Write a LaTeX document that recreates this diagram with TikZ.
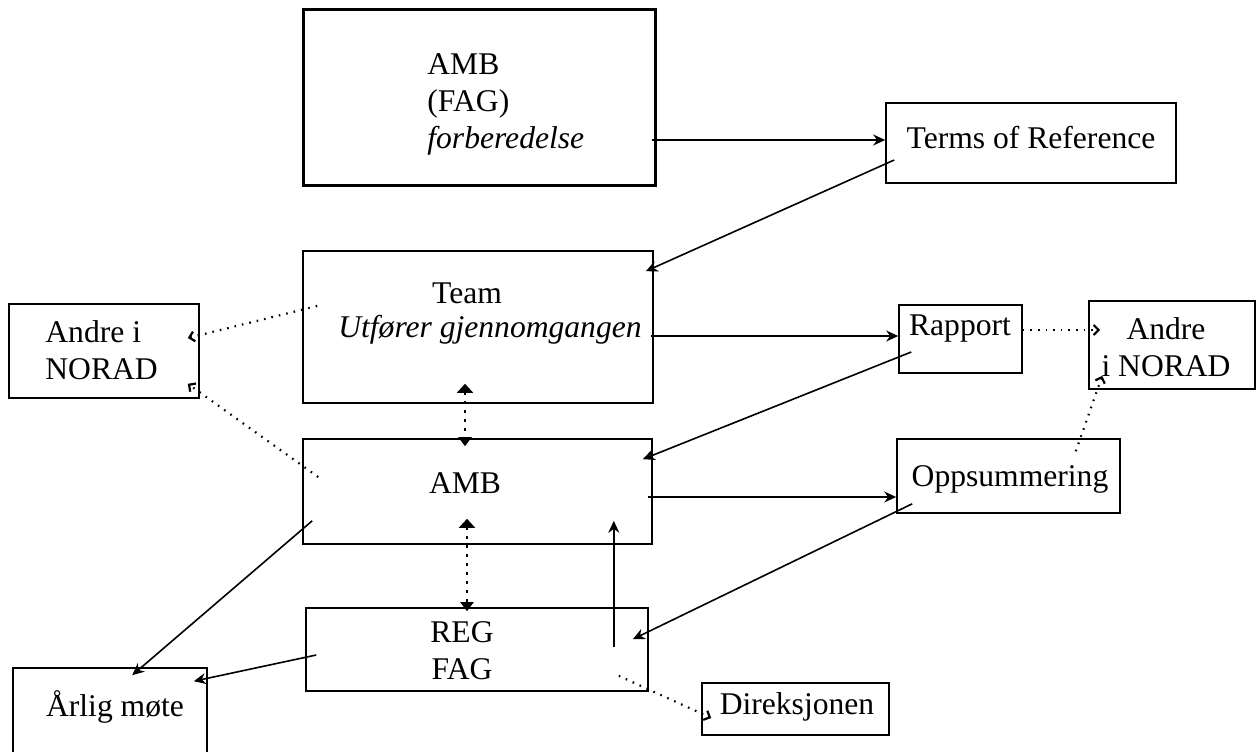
\documentclass[tikz,border=0pt]{standalone}
\usepackage{fontspec}
\setmainfont{Liberation Serif}
\usetikzlibrary{arrows.meta}

\begin{document}
\begin{tikzpicture}[x=0.5pt,y=-0.5pt,
  box/.style 2 args={draw,line width=0.8pt,minimum width=#1,minimum height=#2,inner sep=0pt},
  txt/.style={inner sep=0pt,font=\fontsize{15.8}{18.5}\selectfont},
  arr/.style={line width=0.8pt,-{Stealth[length=6pt,width=5.5pt]}},
  dotarr/.style={line width=1.1pt,dash pattern=on 0.8pt off 3pt,-{Straight Barb[length=2.5pt,width=5pt]}},
  dblarr/.style={line width=1pt,dash pattern=on 1.5pt off 3pt,{Triangle[length=4.5pt,width=8pt]}-{Triangle[length=4.5pt,width=6.5pt]}}]
  \useasboundingbox (0,0) rectangle (1256,751);
  % boxes
  \node[box={176pt}{88pt},line width=1.5pt] (prep) at (479,97) {};
  \node[box={145pt}{40pt}] (tor) at (1031,143) {};
  \node[box={175pt}{76pt}] (team) at (478,327) {};
  \node[box={95pt}{47pt}] (andreL) at (104,351) {};
  \node[box={61.5pt}{34pt}] (rapport) at (960.5,339) {};
  \node[box={83pt}{44pt}] (andreR) at (1172,345) {};
  \node[box={174.5pt}{52.5pt}] (amb) at (477.5,491.5) {};
  \node[box={111.5pt}{37pt}] (opps) at (1008.5,476) {};
  \node[box={171pt}{41.5pt}] (reg) at (477,649.5) {};
  \node[box={97pt}{43.5pt}] (arlig) at (110,711.5) {};
  \node[box={93.5pt}{26pt}] (dir) at (795.5,709) {};
  % texts
  \node[txt,anchor=west,align=left] (prep-t) at (427,104) {AMB\\(FAG)\\\textit{forberedelse}};
  \node[txt] (tor-t) at (1031,138) {Terms of Reference};
  \node[txt] (team-t) at (467,293) {Team};
  \node[txt] (team-s) at (490,330) {\textit{Utfører gjennomgangen}};
  \node[txt,anchor=west,align=left] (andreL-t) at (45,350) {Andre i\\NORAD};
  \node[txt] (rapport-t) at (960,329) {Rapport};
  \node[txt,align=center] (andreR-t) at (1166,347) {Andre\\i NORAD};
  \node[txt] (amb-t) at (465,483) {AMB};
  \node[txt] (opps-t) at (1010,479) {Oppsummering};
  \node[txt,align=center] (reg-t) at (462,651) {REG\\FAG};
  \node[txt] (arlig-t) at (115,707) {Årlig møte};
  \node[txt] (dir-t) at (797,707) {Direksjonen};
  % solid arrows
  \draw[arr] ([shift={(-5,43)}]prep.east) -- ([shift={(0,-3)}]tor.west);
  \draw[arr] ([shift={(9,17)}]tor.west) -- ([shift={(-8,21)}]team.north east);
  \draw[arr] ([shift={(-3,9)}]team.east) -- ([shift={(0,-3)}]rapport.west);
  \draw[arr] ([shift={(13,13)}]rapport.west) -- ([shift={(-10,21)}]amb.north east);
  \draw[arr] ([shift={(-5,5.5)}]amb.east) -- ([shift={(0,21)}]opps.west);
  \draw[arr] ([shift={(16,-10)}]opps.south west) -- ([shift={(-16,32)}]reg.north east);
  \draw[arr] ([shift={(-35,40)}]reg.north east) -- ([shift={(-39,-24)}]amb.south east);
  \draw[arr] ([shift={(10,-24)}]amb.south west) -- ([shift={(120,8)}]arlig.north west);
  \draw[arr] ([shift={(11,5.5)}]reg.west) -- ([shift={(-14,14)}]arlig.north east);
  % dotted arrows
  \draw[dotarr] ([shift={(15,-21)}]team.west) -- ([shift={(-12,-13)}]andreL.east);
  \draw[dotarr] ([shift={(16,-14.5)}]amb.west) -- ([shift={(-12,-15)}]andreL.south east);
  \draw[dotarr] ([shift={(0,-9)}]rapport.east) -- ([shift={(12,-15)}]andreR.west);
  \draw[dotarr] ([shift={(-45,13)}]opps.north east) -- ([shift={(14,-14)}]andreR.south west);
  \draw[dotarr] ([shift={(-30,-16)}]reg.south east) -- ([shift={(10,9)}]dir.west);
  \draw[dblarr] ([shift={(-13,-20)}]team.south) -- ([shift={(-12.5,8)}]amb.north);
  \draw[dblarr] ([shift={(-10.5,-26)}]amb.south) -- ([shift={(-10,4)}]reg.north);
\end{tikzpicture}
\end{document}
